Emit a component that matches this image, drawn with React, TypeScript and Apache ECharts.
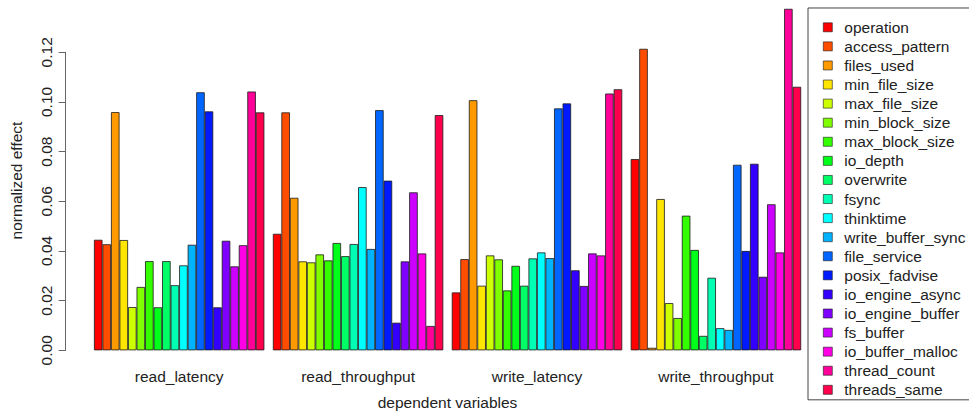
import React, { useEffect, useRef } from "react";
import * as echarts from "echarts";

// Dependent variables along the x axis
const categories = ["read_latency", "read_throughput", "write_latency", "write_throughput"];

// Factors (one bar per factor in every group)
const factors = [
  "operation",
  "access_pattern",
  "files_used",
  "min_file_size",
  "max_file_size",
  "min_block_size",
  "max_block_size",
  "io_depth",
  "overwrite",
  "fsync",
  "thinktime",
  "write_buffer_sync",
  "file_service",
  "posix_fadvise",
  "io_engine_async",
  "io_engine_buffer",
  "fs_buffer",
  "io_buffer_malloc",
  "thread_count",
  "threads_same",
];

// Normalized effect per factor, one array per dependent variable
const readLatency = [
  0.0445, 0.0427, 0.0959, 0.0444, 0.0174, 0.0255, 0.0359, 0.0173, 0.0359, 0.0262,
  0.0342, 0.0425, 0.1039, 0.0962, 0.0173, 0.0441, 0.0338, 0.0423, 0.1042, 0.0958,
];
const readThroughput = [
  0.0469, 0.0958, 0.0614, 0.0358, 0.0354, 0.0386, 0.0362, 0.0432, 0.0379, 0.0428,
  0.0657, 0.0408, 0.0967, 0.0683, 0.0111, 0.0358, 0.0636, 0.039, 0.0098, 0.0947,
];
const writeLatency = [
  0.0233, 0.0367, 0.1007, 0.026, 0.0382, 0.0366, 0.0241, 0.034, 0.026, 0.037,
  0.0394, 0.0371, 0.0974, 0.0994, 0.0322, 0.0259, 0.039, 0.0382, 0.1034, 0.1051,
];
const writeThroughput = [
  0.077, 0.1214, 0.001, 0.0609, 0.019, 0.013, 0.0542, 0.0404, 0.0058, 0.0292,
  0.0089, 0.0082, 0.0747, 0.04, 0.0751, 0.0296, 0.0588, 0.0394, 0.1375, 0.1061,
];

// rainbow(20) palette
const palette = [
  "#FF0000", "#FF4D00", "#FF9900", "#FFE500", "#CCFF00", "#80FF00", "#33FF00",
  "#00FF19", "#00FF66", "#00FFB2", "#00FFFF", "#00B3FF", "#0066FF", "#001AFF",
  "#3300FF", "#7F00FF", "#CC00FF", "#FF00E6", "#FF0099", "#FF004D",
];

const yTicks = [0, 0.02, 0.04, 0.06, 0.08, 0.1, 0.12];

const FONT = "Liberation Sans, Arial, Helvetica, sans-serif";
const TEXT = "#222";
const FS = 15.5;

export default function App() {
  const ref = useRef<HTMLDivElement>(null);

  useEffect(() => {
    document.body.style.margin = "0";
    if (!ref.current) return;
    const chart = echarts.init(ref.current, null, { renderer: "svg" });

    const groups = [readLatency, readThroughput, writeLatency, writeThroughput];

    const series = factors.map((name, i) => ({
      name,
      type: "bar" as const,
      data: groups.map((g) => g[i]),
      barGap: "0%",
      barCategoryGap: `${100 / 21}%`,
      clip: false,
      itemStyle: {
        color: palette[i],
        borderColor: "#1a1a1a",
        borderWidth: 0.8,
      },
      emphasis: { disabled: true },
    }));

    chart.setOption({
      animation: false,
      textStyle: { fontFamily: FONT },
      grid: {
        left: 89.7,
        right: 163.6,
        top: 52.3,
        bottom: 61.7,
        containLabel: false,
        outerBoundsMode: "none",
      },
      xAxis: {
        type: "category",
        data: categories,
        axisLine: { show: false },
        axisTick: { show: false },
        axisLabel: { color: TEXT, fontSize: FS, margin: 18, fontFamily: FONT },
        name: "dependent variables",
        nameLocation: "middle",
        nameGap: 44,
        nameTextStyle: { color: TEXT, fontSize: FS, fontFamily: FONT },
      },
      yAxis: {
        type: "value",
        min: 0,
        max: 0.12,
        interval: 0.02,
        offset: 24,
        splitLine: { show: false },
        axisLine: { show: true, lineStyle: { color: "#666", width: 1 } },
        axisTick: { show: true, length: 7, lineStyle: { color: "#666" } },
        axisLabel: {
          color: TEXT,
          fontSize: FS,
          rotate: 90,
          margin: 11,
          fontFamily: FONT,
          formatter: (v: number) => {
            const t = yTicks.find((x) => Math.abs(x - v) < 1e-9);
            return (t ?? v).toFixed(2);
          },
        },
      },
      legend: {
        orient: "vertical",
        left: 808,
        top: 8,
        data: factors,
        icon: "rect",
        itemWidth: 9,
        itemHeight: 9,
        itemGap: 3.08,
        padding: [11.3, 40, 2, 15],
        borderColor: "#444",
        borderWidth: 1,
        borderRadius: 0,
        selectedMode: false,
        textStyle: { color: TEXT, fontSize: FS, fontFamily: FONT, padding: [0, 0, 0, 7] },
        itemStyle: { borderColor: "#1a1a1a", borderWidth: 0.6 },
      },
      graphic: [
        {
          type: "text",
          x: 16,
          y: 180.5,
          rotation: Math.PI / 2,
          style: {
            text: "normalized effect",
            fill: TEXT,
            fontSize: FS,
            fontFamily: FONT,
            align: "center",
            verticalAlign: "middle",
          },
        },
      ],
      series,
    });

    return () => chart.dispose();
  }, []);

  return <div ref={ref} style={{ width: 969, height: 412 }} />;
}
